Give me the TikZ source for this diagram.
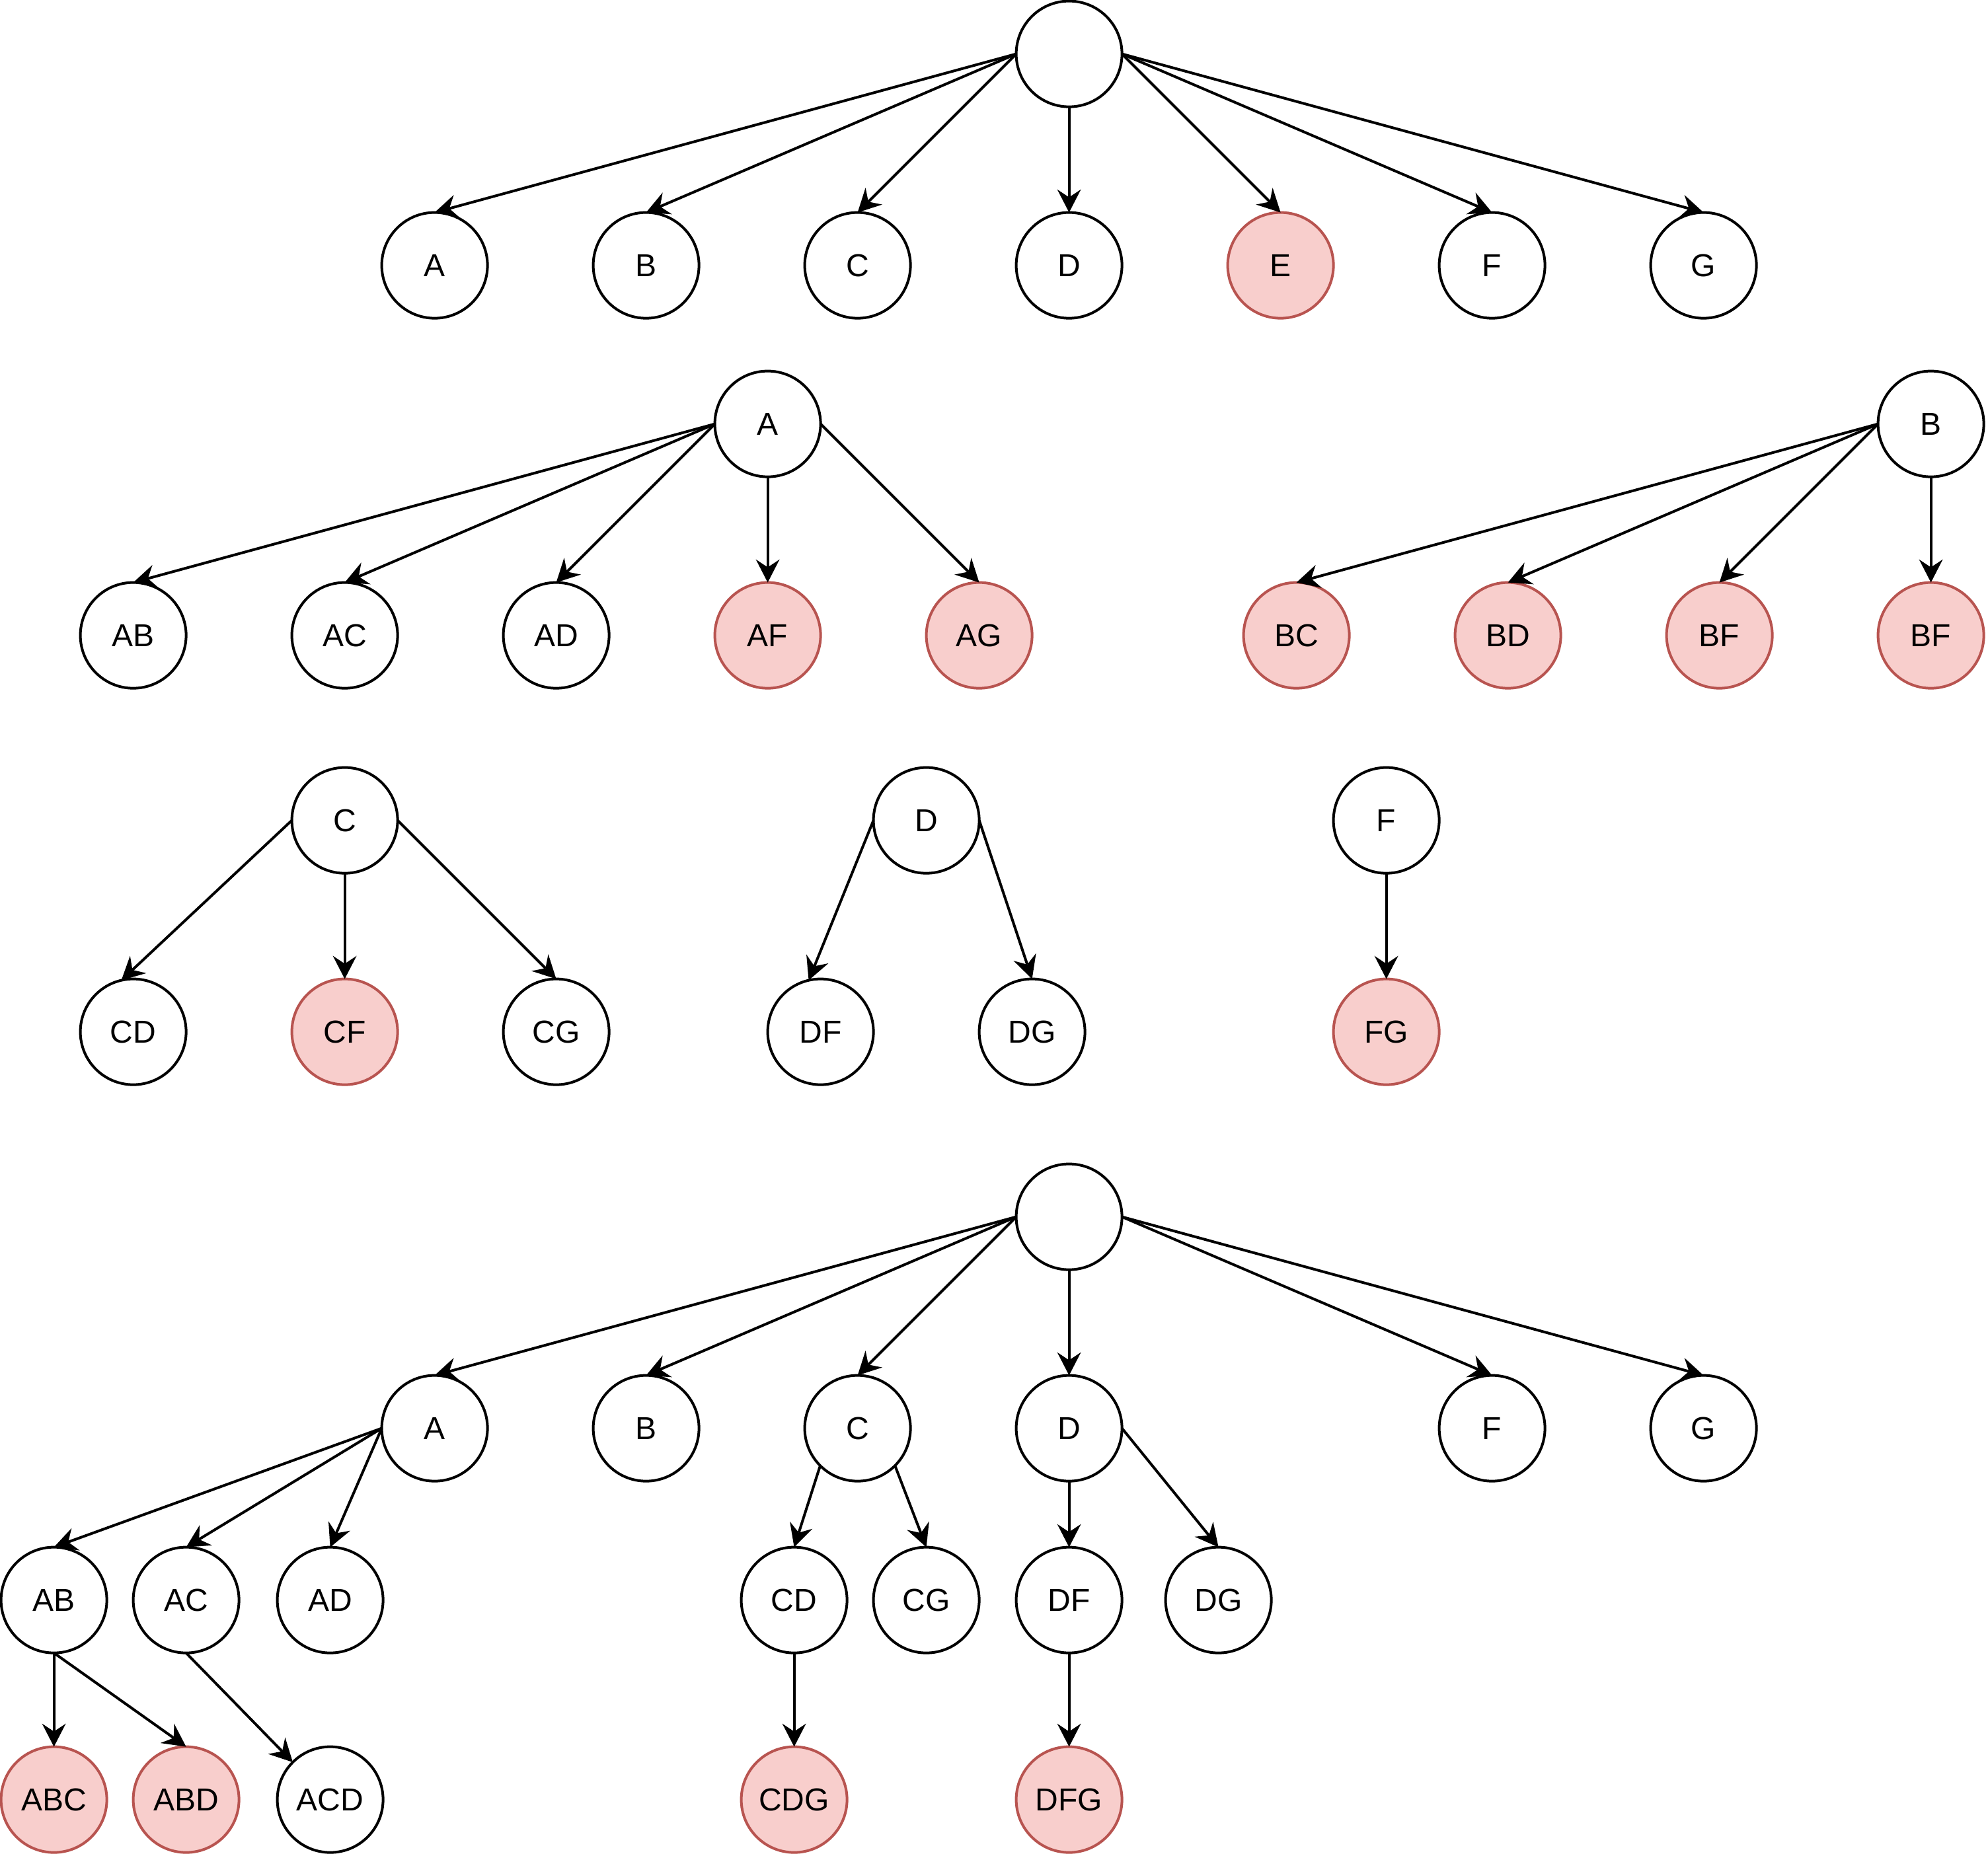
\documentclass[tikz,border=0pt]{standalone}
\usepackage{fontspec}
\setmainfont{Liberation Sans}
\usetikzlibrary{arrows.meta}
\definecolor{rdfill}{HTML}{F8CECC}
\definecolor{rdstroke}{HTML}{B85450}
\begin{document}
\begin{tikzpicture}[x=0.04cm,y=-0.04cm,
  nd/.style={circle, draw=black, fill=white, line width=0.04cm, minimum size=1.6cm, inner sep=0pt, outer sep=0pt, font=\fontsize{13.66}{16}\selectfont},
  rd/.style={nd, draw=rdstroke, fill=rdfill},
  ar/.style={line width=0.04cm, -{Stealth[length=0.35cm, width=0.36cm, inset=0.12cm, line width=0pt]}}]
\useasboundingbox (0,0) rectangle (752,702);
\begin{scope}[shift={(0.4,0.4)}]
% ---------- tree 1
\node[nd] (r1) at (404,20) {};
\node[nd] (a1) at (164,100) {A};
\node[nd] (b1) at (244,100) {B};
\node[nd] (c1) at (324,100) {C};
\node[nd] (d1) at (404,100) {D};
\node[rd] (e1) at (484,100) {E};
\node[nd] (f1) at (564,100) {F};
\node[nd] (g1) at (644,100) {G};
% ---------- tree 2
\node[nd] (a2) at (290,160) {A};
\node[nd] (ab2) at (50,240) {AB};
\node[nd] (ac2) at (130,240) {AC};
\node[nd] (ad2) at (210,240) {AD};
\node[rd] (af2) at (290,240) {AF};
\node[rd] (ag2) at (370,240) {AG};
\node[nd] (b2) at (730,160) {B};
\node[rd] (bc2) at (490,240) {BC};
\node[rd] (bd2) at (570,240) {BD};
\node[rd] (bfa2) at (650,240) {BF};
\node[rd] (bfb2) at (730,240) {BF};
% ---------- tree 3
\node[nd] (c3) at (130,310) {C};
\node[nd] (cd3) at (50,390) {CD};
\node[rd] (cf3) at (130,390) {CF};
\node[nd] (cg3) at (210,390) {CG};
\node[nd] (d3) at (350,310) {D};
\node[nd] (df3) at (310,390) {DF};
\node[nd] (dg3) at (390,390) {DG};
\node[nd] (f3) at (524,310) {F};
\node[rd] (fg3) at (524,390) {FG};
% ---------- tree 4
\node[nd] (r4) at (404,460) {};
\node[nd] (a4) at (164,540) {A};
\node[nd] (b4) at (244,540) {B};
\node[nd] (c4) at (324,540) {C};
\node[nd] (d4) at (404,540) {D};
\node[nd] (f4) at (564,540) {F};
\node[nd] (g4) at (644,540) {G};
\node[nd] (ab4) at (20,605) {AB};
\node[nd] (ac4) at (70,605) {AC};
\node[nd] (ad4) at (124.5,605) {AD};
\node[nd] (cd4) at (300,605) {CD};
\node[nd] (cg4) at (350,605) {CG};
\node[nd] (df4) at (404,605) {DF};
\node[nd] (dg4) at (460.5,605) {DG};
\node[rd] (abc4) at (20,680.5) {ABC};
\node[rd] (abd4) at (70,680.5) {ABD};
\node[nd] (acd4) at (124.5,680.5) {ACD};
\node[rd] (cdg4) at (300,680.5) {CDG};
\node[rd] (dfg4) at (404,680.5) {DFG};
\end{scope}
% ---------- edges tree 1
\draw[ar] (r1.west) -- (a1.north);
\draw[ar] (r1.west) -- (b1.north);
\draw[ar] (r1.west) -- (c1.north);
\draw[ar] (r1.south) -- (d1.north);
\draw[ar] (r1.east) -- (e1.north);
\draw[ar] (r1.east) -- (f1.north);
\draw[ar] (r1.east) -- (g1.north);
% ---------- edges tree 2
\draw[ar] (a2.west) -- (ab2.north);
\draw[ar] (a2.west) -- (ac2.north);
\draw[ar] (a2.west) -- (ad2.north);
\draw[ar] (a2.south) -- (af2.north);
\draw[ar] (a2.east) -- (ag2.north);
\draw[ar] (b2.west) -- (bc2.north);
\draw[ar] (b2.west) -- (bd2.north);
\draw[ar] (b2.west) -- (bfa2.north);
\draw[ar] (b2.south) -- (bfb2.north);
% ---------- edges tree 3
\draw[ar] (c3.west) -- (cd3.103);
\draw[ar] (c3.south) -- (cf3.north);
\draw[ar] (c3.east) -- (cg3.north);
\draw[ar] (d3.west) -- (df3.103);
\draw[ar] (d3.east) -- (dg3.north);
\draw[ar] (f3.south) -- (fg3.north);
% ---------- edges tree 4
\draw[ar] (r4.west) -- (a4.north);
\draw[ar] (r4.west) -- (b4.north);
\draw[ar] (r4.west) -- (c4.north);
\draw[ar] (r4.south) -- (d4.north);
\draw[ar] (r4.east) -- (f4.north);
\draw[ar] (r4.east) -- (g4.north);
\draw[ar] (a4.west) -- (ab4.north);
\draw[ar] (a4.west) -- (ac4.north);
\draw[ar] (a4.west) -- (ad4.north);
\draw[ar] (c4.south west) -- (cd4.north);
\draw[ar] (c4.south east) -- (cg4.north);
\draw[ar] (d4.south) -- (df4.north);
\draw[ar] (d4.east) -- (dg4.north);
\draw[ar] (ab4.south) -- (abc4.north);
\draw[ar] (ab4.south) -- (abd4.north);
\draw[ar] (ac4.south) -- (acd4.north west);
\draw[ar] (cd4.south) -- (cdg4.north);
\draw[ar] (df4.south) -- (dfg4.north);
\end{tikzpicture}
\end{document}
